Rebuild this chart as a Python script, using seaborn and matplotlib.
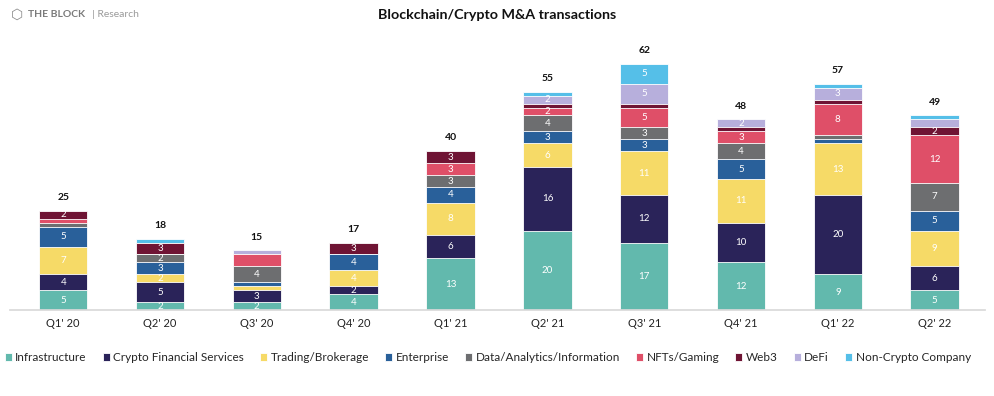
import numpy as np
import pandas as pd
import matplotlib
matplotlib.use("Agg")
import matplotlib.pyplot as plt
import seaborn as sns

quarters = ["Q1' 20", "Q2' 20", "Q3' 20", "Q4' 20", "Q1' 21", "Q2' 21", "Q3' 21", "Q4' 21", "Q1' 22", "Q2' 22"]
categories = ["Infrastructure", "Crypto Financial Services", "Trading/Brokerage", "Enterprise",
              "Data/Analytics/Information", "NFTs/Gaming", "Web3", "DeFi", "Non-Crypto Company"]
infrastructure = [5, 2, 2, 4, 13, 20, 17, 12, 9, 5]
crypto_fin = [4, 5, 3, 2, 6, 16, 12, 10, 20, 6]
trading = [7, 2, 1, 4, 8, 6, 11, 11, 13, 9]
enterprise = [5, 3, 1, 4, 4, 3, 3, 5, 1, 5]
data_analytics = [1, 2, 4, 0, 3, 4, 3, 4, 1, 7]
nfts = [1, 0, 3, 0, 3, 2, 5, 3, 8, 12]
web3 = [2, 3, 0, 3, 3, 1, 1, 1, 1, 2]
defi = [0, 0, 1, 0, 0, 2, 5, 2, 3, 2]
non_crypto = [0, 1, 0, 0, 0, 1, 5, 0, 1, 1]
colors = ["#62b9ad", "#2a2359", "#f6da67", "#29609a", "#6d6e70", "#df4f68", "#6f1434", "#b7afdc", "#55bfe8"]

series = [infrastructure, crypto_fin, trading, enterprise, data_analytics, nfts, web3, defi, non_crypto]
df = pd.DataFrame(dict(zip(categories, series)), index=quarters)
cum = df.cumsum(axis=1)
totals = df.sum(axis=1)

sns.set_theme(style="white")
plt.rcParams["font.family"] = ["Lato", "DejaVu Sans"]

fig = plt.figure(figsize=(9.95, 3.96), dpi=100)
ax = fig.add_axes([0.01, 0.217, 0.98, 0.702])

# draw cumulative layers from top to bottom so lower ones sit in front
for i in reversed(range(len(categories))):
    sns.barplot(x=quarters, y=cum[categories[i]].values, color=colors[i], width=0.5,
                edgecolor="white", linewidth=0.6, ax=ax, label=categories[i], saturation=1)

# segment labels (the source leaves a couple unlabelled)
unlabelled = {("Q3' 20", "NFTs/Gaming"), ("Q2' 22", "DeFi")}
for j, q in enumerate(quarters):
    base = 0
    for i, c in enumerate(categories):
        v = df.loc[q, c]
        if v >= 2 and (q, c) not in unlabelled:
            ax.text(j, base + v / 2, str(v), ha="center", va="center", color="white",
                    fontsize=7)
        base += v
    ax.text(j, totals[q] + 2.2, str(totals[q]), ha="center", va="bottom",
            fontsize=7.5, fontweight="bold", color="#111111")

ax.set_xlim(-0.55, 9.52)
ax.set_ylim(0, 70)
ax.set_yticks([])
ax.set_ylabel("")
for s in ["top", "left", "right"]:
    ax.spines[s].set_visible(False)
ax.spines["bottom"].set_color("#d9d9d9")
ax.tick_params(axis="x", length=0, labelsize=8, pad=6, colors="#222222")

handles, labels = ax.get_legend_handles_labels()
order = [labels.index(c) for c in categories]
ax.legend([handles[k] for k in order], [labels[k] for k in order], loc="upper center",
          bbox_to_anchor=(0.49, -0.135), ncol=9, frameon=False, fontsize=8.5,
          handlelength=0.6, handleheight=0.6, handletextpad=0.3, columnspacing=1.35,
          borderaxespad=0)

fig.text(0.5, 0.963, "Blockchain/Crypto M&A transactions", ha="center", va="center",
         fontsize=10.3, fontweight="bold", color="#111111")
fig.text(0.028, 0.963, "THE BLOCK", ha="left", va="center", fontsize=7.5,
         fontweight="bold", color="#7a7a7a")
fig.text(0.092, 0.963, "| Research", ha="left", va="center", fontsize=7.5, color="#9a9a9a")
fig.text(0.017, 0.963, "\u2b21", ha="center", va="center", fontsize=10, color="#8a8a8a",
         family=["DejaVu Sans"])

fig.savefig("out.png", dpi=100)
